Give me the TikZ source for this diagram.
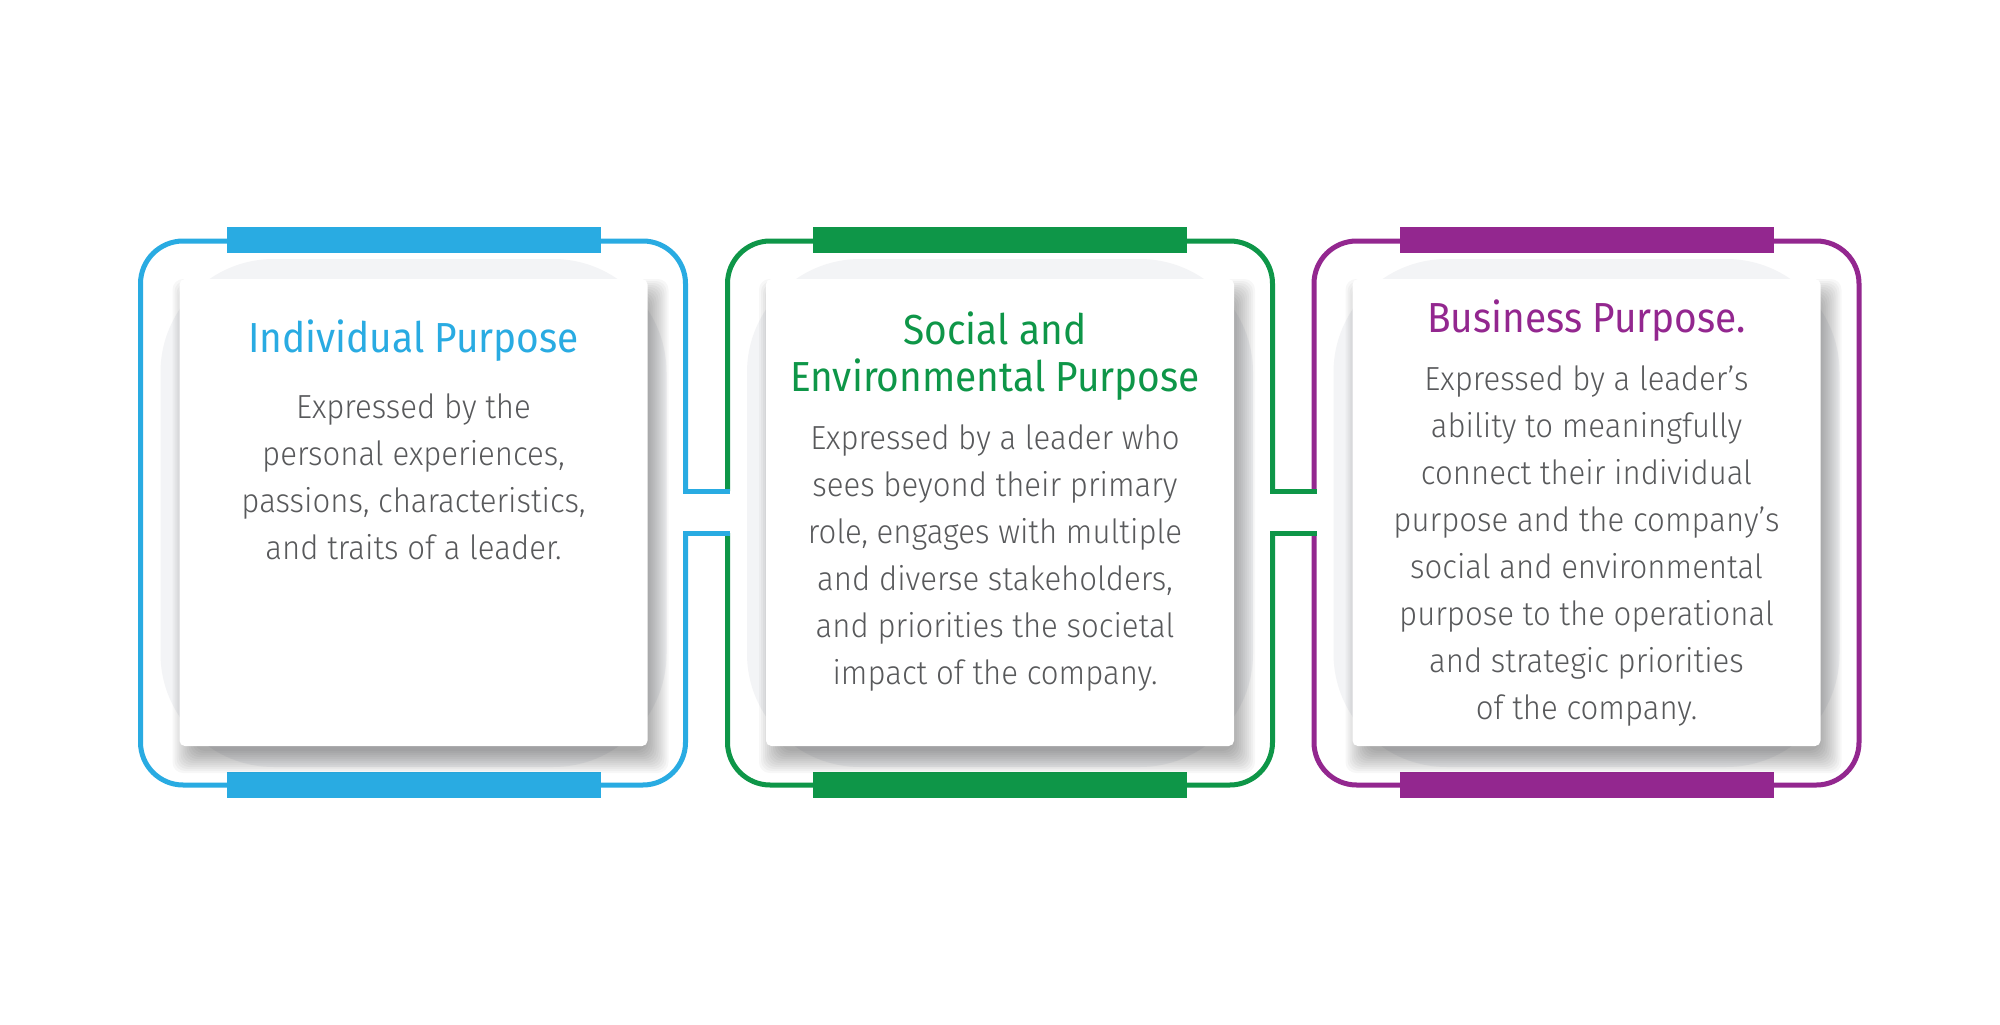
\documentclass[tikz,border=0pt]{standalone}
\usepackage{fontspec}
\setmainfont{Fira Sans}
\newfontfamily\bodyfont{Fira Sans Light}[FakeStretch=0.935]
\newfontfamily\titlefont{Fira Sans}[FakeStretch=0.925]
\definecolor{cblue}{HTML}{29ABE2}
\definecolor{cgreen}{HTML}{0E9648}
\definecolor{cpurple}{HTML}{93278F}
\definecolor{bodygray}{HTML}{58595B}
\definecolor{blobgray}{HTML}{F3F4F6}
\newcommand\mypanelbg[1]{%
  \fill[blobgray, rounded corners=85pt] (#1-253,259) rectangle (#1+253,767);
  \foreach \e in {-8,-6,...,14}
    \fill[black, opacity=0.032, rounded corners=8pt] (#1-234+7-\e,279+14-\e) rectangle (#1+234+7+\e,747+12+\e);
  \fill[white, rounded corners=4pt] (#1-234,279) rectangle (#1+234,746);
}
\newcommand\mybars[2]{%
  \fill[#2] (#1-187,227) rectangle (#1+187,253);
  \fill[#2] (#1-187,772) rectangle (#1+187,798);
}
\begin{document}
\begin{tikzpicture}[x=0.75pt,y=-0.75pt,
  outl/.style={line width=3.75pt, rounded corners=32pt},
  conn/.style={line width=3.75pt},
  body/.style={font=\bodyfont\fontsize{25}{30}\selectfont, text=bodygray, inner sep=0pt, anchor=base},
  ttl/.style={font=\titlefont\fontsize{31.5}{36}\selectfont, inner sep=0pt, anchor=base}]
\useasboundingbox[fill=white] (0,0) rectangle (2000,1025);
% outlines
\draw[outl, cblue] (685.5,491) -- (685.5,241) -- (140.5,241) -- (140.5,785) -- (685.5,785) -- (685.5,533);
\draw[outl, cgreen] (727.5,491) -- (727.5,241) -- (1272.5,241) -- (1272.5,491);
\draw[outl, cgreen] (727.5,533) -- (727.5,785) -- (1272.5,785) -- (1272.5,533);
\draw[outl, cpurple] (1314,491) -- (1314,241) -- (1859,241) -- (1859,785) -- (1314,785) -- (1314,533);
% connectors
\draw[conn, cblue] (685.5,441) -- (685.5,491) -- (730,491);
\draw[conn, cblue] (685.5,583) -- (685.5,533) -- (730,533);
\draw[conn, cgreen] (1272.5,441) -- (1272.5,491) -- (1316.5,491);
\draw[conn, cgreen] (1272.5,583) -- (1272.5,533) -- (1316.5,533);
% bars
\mybars{413.5}{cblue}
\mybars{1000}{cgreen}
\mybars{1586.5}{cpurple}
% panels
\mypanelbg{413.5}
\mypanelbg{1000}
\mypanelbg{1586.5}
% texts: blue
\node[ttl, text=cblue] (t1) at (413.5,352) {Individual Purpose};
\foreach \t [count=\i] in {Expressed by the, {personal experiences,}, {passions, characteristics,}, and traits of a leader.}
  \node[body] (b1-\i) at (413.5,418+47*\i-47) {\t};
% green
\node[ttl, text=cgreen] (t2a) at (995,344) {Social and};
\node[ttl, text=cgreen] (t2b) at (995,391) {Environmental Purpose};
\foreach \t [count=\i] in {Expressed by a leader who, sees beyond their primary, {role, engages with multiple}, {and diverse stakeholders,}, and priorities the societal, impact of the company.}
  \node[body] (b2-\i) at (995,449+47*\i-47) {\t};
% purple
\node[ttl, text=cpurple] (t3) at (1586.5,332) {Business Purpose.};
\foreach \t [count=\i] in {Expressed by a leader’s, ability to meaningfully, connect their individual, purpose and the company’s, social and environmental, purpose to the operational, and strategic priorities, of the company.}
  \node[body] (b3-\i) at (1586.5,390+47*\i-47) {\t};
\end{tikzpicture}
\end{document}
